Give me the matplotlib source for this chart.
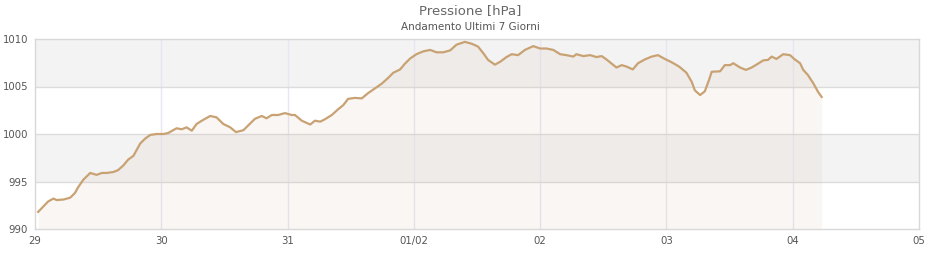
import matplotlib
matplotlib.use("Agg")
import matplotlib.pyplot as plt

# hours since 29 Jan 00:00
hours = [0.6, 2.5, 3.5, 4.1, 5.4, 6.7, 7.6, 8.2, 9.2, 10.5, 11.7, 12.7, 13.6, 14.9, 15.8,
         16.8, 17.7, 18.7, 19.3, 20.0, 20.9, 21.9, 23.1, 24.4, 25.3, 26.9, 27.9, 28.8,
         29.8, 30.7, 31.7, 33.3, 34.5, 35.8, 37.1, 38.2, 39.6, 40.9, 41.8, 43.1, 44.0,
         45.0, 46.2, 47.5, 48.8, 49.4, 50.7, 52.3, 53.2, 54.2, 55.1, 56.4, 57.6, 58.6,
         59.5, 60.8, 62.1, 63.3, 64.6, 65.9, 67.1, 68.1, 69.4, 70.3, 71.3, 72.5, 73.8,
         75.1, 76.3, 77.6, 78.9, 80.1, 81.7, 83.0, 84.2, 85.2, 86.1, 87.4, 88.4, 89.6,
         90.6, 91.8, 93.1, 94.7, 96.0, 97.2, 98.5, 99.8, 101.0, 102.3, 102.9, 104.2,
         105.5, 106.7, 107.7, 108.6, 109.6, 110.5, 111.5, 112.4, 113.6, 114.6, 115.9,
         117.2, 118.4, 119.7, 121.0, 122.4, 123.8, 124.8, 125.4, 126.4, 127.3, 128.1,
         128.6, 130.2, 131.1, 132.1, 132.7, 134.0, 135.1, 136.2, 137.4, 138.4, 139.3,
         140.0, 140.9, 142.2, 143.5, 144.4, 145.4, 146.0, 146.9, 147.9, 148.8, 149.5]
pressure = [991.8, 992.9, 993.2, 993.05, 993.1, 993.3, 993.8, 994.4, 995.2, 995.9, 995.7,
            995.9, 995.9, 996.0, 996.2, 996.7, 997.3, 997.7, 998.3, 999.0, 999.5, 999.9,
            1000.0, 1000.0, 1000.1, 1000.6, 1000.5, 1000.7, 1000.35, 1001.05, 1001.4,
            1001.9, 1001.75, 1001.05, 1000.7, 1000.2, 1000.4, 1001.1, 1001.6, 1001.9,
            1001.65, 1002.0, 1002.0, 1002.2, 1002.0, 1002.0, 1001.4, 1001.0, 1001.4,
            1001.3, 1001.55, 1002.0, 1002.6, 1003.05, 1003.7, 1003.8, 1003.75, 1004.3,
            1004.8, 1005.3, 1005.9, 1006.45, 1006.8, 1007.4, 1007.95, 1008.4, 1008.7,
            1008.85, 1008.6, 1008.6, 1008.8, 1009.4, 1009.7, 1009.5, 1009.2, 1008.5,
            1007.8, 1007.3, 1007.6, 1008.1, 1008.4, 1008.3, 1008.85, 1009.25, 1009.0,
            1009.0, 1008.85, 1008.4, 1008.3, 1008.15, 1008.4, 1008.2, 1008.3, 1008.1,
            1008.2, 1007.85, 1007.4, 1007.0, 1007.25, 1007.1, 1006.8, 1007.45, 1007.85,
            1008.15, 1008.3, 1007.9, 1007.55, 1007.1, 1006.45, 1005.5, 1004.6, 1004.1,
            1004.5, 1005.7, 1006.55, 1006.6, 1007.25, 1007.25, 1007.45, 1007.0, 1006.75,
            1007.0, 1007.4, 1007.75, 1007.8, 1008.15, 1007.9, 1008.4, 1008.3, 1007.85,
            1007.45, 1006.75, 1006.2, 1005.35, 1004.45, 1003.9]

tick_hours = [0, 24, 48, 72, 96, 120, 144, 168]
tick_labels = ["29", "30", "31", "01/02", "02", "03", "04", "05"]
y_ticks = [990, 995, 1000, 1005, 1010]

fig = plt.figure(figsize=(9.4, 2.6), dpi=100)
ax = fig.add_axes([35/940, 31/260, 884/940, 190/260])
ax.set_xlim(0, 168)
ax.set_ylim(990, 1010)

# alternating bands
for i in range(len(y_ticks) - 1):
    if i % 2 == 1:
        ax.axhspan(y_ticks[i], y_ticks[i+1], color="#f3f3f3", zorder=0, lw=0)

for t in tick_hours[1:-1]:
    ax.axvline(t, color="#e8e6f2", lw=1, zorder=1)
for y in y_ticks[1:-1]:
    ax.axhline(y, color="#dcdcdc", lw=1, zorder=1)

ax.fill_between(hours, pressure, 990, color="#cf9f87", alpha=0.085, lw=0, zorder=2)
ax.plot(hours, pressure, color="#c9a273", lw=1.6, zorder=3)

ax.set_xticks(tick_hours)
ax.set_xticklabels(tick_labels)
ax.set_yticks(y_ticks)
ax.tick_params(axis="both", length=0, labelsize=7.3, labelcolor="#555555")
ax.tick_params(axis="x", pad=5)
ax.tick_params(axis="y", pad=5)
for s in ax.spines.values():
    s.set_color("#d8d8d8")
    s.set_linewidth(1)

fig.text(0.5, 1 - 11/260, "Pressione [hPa]", ha="center", va="center", fontsize=9.5, color="#666666")
fig.text(0.5, 1 - 27/260, "Andamento Ultimi 7 Giorni", ha="center", va="center", fontsize=7.5, color="#555555")

fig.savefig("out.png", dpi=100)
